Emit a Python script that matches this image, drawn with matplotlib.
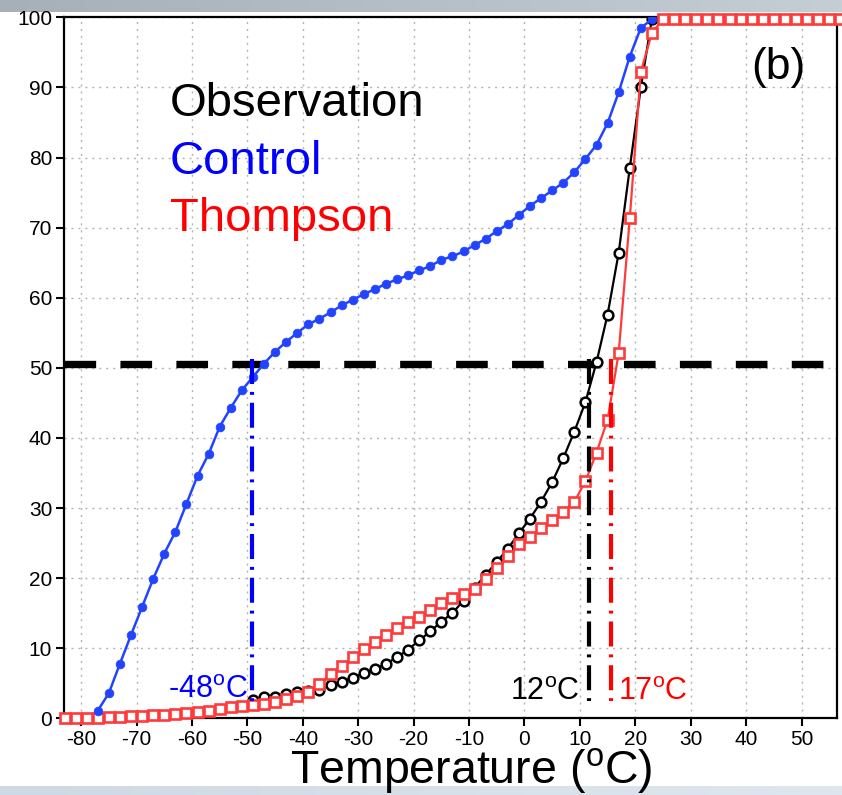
import numpy as np
import matplotlib
matplotlib.use("Agg")
import matplotlib.pyplot as plt
from matplotlib.colors import LinearSegmentedColormap

plt.rcParams['font.family'] = ['Liberation Sans', 'DejaVu Sans']
plt.rcParams['mathtext.fontset'] = 'custom'
plt.rcParams['mathtext.rm'] = 'Liberation Sans'
plt.rcParams['axes.unicode_minus'] = False

# ---------------- data ----------------
t_control = [-77, -75, -73, -71, -69, -67, -65, -63, -61, -59, -57, -55, -53, -51,
             -49, -47, -45, -43, -41, -39, -37, -35, -33, -31, -29, -27, -25, -23,
             -21, -19, -17, -15, -13, -11, -9, -7, -5, -3, -1, 1, 3, 5, 7, 9, 11,
             13, 15, 17, 19, 21, 23]
control = [1.1, 3.6, 7.8, 11.9, 15.9, 19.9, 23.5, 26.6, 30.6, 34.6, 37.7, 41.6, 44.3, 46.8,
           48.7, 50.6, 52.3, 53.7, 55.0, 56.2, 57.0, 57.9, 58.9, 59.7, 60.5, 61.2, 62.0, 62.6,
           63.2, 63.9, 64.5, 65.4, 65.9, 66.6, 67.5, 68.4, 69.5, 70.5, 71.8, 73.1, 74.2, 75.3,
           76.4, 77.9, 79.8, 81.8, 84.9, 89.3, 94.4, 98.5, 99.7]

t_obs = [-49, -47, -45, -43, -41, -39, -37, -35, -33, -31, -29, -27, -25, -23, -21, -19,
         -17, -15, -13, -11, -9, -7, -5, -3, -1, 1, 3, 5, 7, 9, 11, 13, 15, 17, 19, 21, 23]
observation = [2.6, 3.0, 3.1, 3.5, 3.7, 3.9, 4.1, 4.7, 5.2, 5.8, 6.4, 7.0, 7.8, 8.7, 9.8, 11.1,
               12.4, 13.8, 15.0, 16.8, 18.6, 20.5, 22.3, 24.2, 26.4, 28.5, 30.9, 33.7, 37.1,
               40.9, 45.1, 50.8, 57.6, 66.4, 78.5, 90.0, 99.8]

t_thompson = [-83, -81, -79, -77, -75, -73, -71, -69, -67, -65, -63, -61, -59, -57, -55, -53,
              -51, -49, -47, -45, -43, -41, -39, -37, -35, -33, -31, -29, -27, -25, -23, -21,
              -19, -17, -15, -13, -11, -9, -7, -5, -3, -1, 1, 3, 5, 7, 9, 11, 13, 15, 17, 19,
              21, 23, 25, 27, 29, 31, 33, 35, 37, 39, 41, 43, 45, 47, 49, 51, 53, 55, 57]
thompson = [0.1, 0.1, 0.1, 0.1, 0.2, 0.2, 0.3, 0.3, 0.4, 0.5, 0.6, 0.8, 0.9, 1.1, 1.3, 1.6,
            1.8, 1.9, 2.0, 2.3, 2.7, 3.2, 3.8, 4.9, 6.3, 7.5, 8.7, 9.9, 10.9, 11.9, 12.9, 13.7,
            14.4, 15.5, 16.5, 17.1, 17.7, 18.4, 19.9, 21.4, 23.1, 24.8, 25.9, 27.1, 28.3, 29.5,
            30.9, 33.8, 37.9, 42.6, 52.1, 71.3, 92.2, 97.8, 99.7, 99.7, 99.7, 99.7, 99.7, 99.7,
            99.7, 99.7, 99.7, 99.7, 99.7, 99.7, 99.7, 99.7, 99.7, 99.7, 99.7]

half_level = 50.6
cross_temps = [-49.1, 11.6, 15.6]
cross_labels = ['-48$^{\\mathrm{o}}$C', '12$^{\\mathrm{o}}$C', '17$^{\\mathrm{o}}$C']
cross_colors = ['#0000ff', 'black', '#ff0000']

xticks = list(range(-80, 51, 10))
yticks = list(range(0, 101, 10))

# ---------------- figure ----------------
W, H = 842, 795
fig = plt.figure(figsize=(W / 100, H / 100), dpi=100)

# top gray band and bottom band (screenshot frame)
band = fig.add_axes([0, 1 - 12 / H, 1, 12 / H])
cm = LinearSegmentedColormap.from_list('band', ['#a7afb7', '#c5cdd5'])
band.imshow(np.linspace(0, 1, 256)[None, :], cmap=cm, aspect='auto')
band.axis('off')
band2 = fig.add_axes([0, 0, 1, 9 / H])
cm2 = LinearSegmentedColormap.from_list('band2', ['#cfd9e3', '#dfe6ee'])
band2.imshow(np.linspace(0, 1, 256)[None, :], cmap=cm2, aspect='auto')
band2.axis('off')

ax = fig.add_axes([64 / W, 1 - 718.3 / H, (837 - 64) / W, (718.3 - 17.3) / H])
ax.set_xlim(-83.1, 56.4)
ax.set_ylim(0, 100)
ax.set_xticks(xticks)
ax.set_yticks(yticks)
ax.grid(True, color='#b4b4b4', linestyle=(0, (1.5, 3.5)), linewidth=1.0, zorder=0)
for s in ax.spines.values():
    s.set_linewidth(1.6)
    s.set_color('black')
ax.tick_params(direction='out', length=6, width=1.5, labelsize=15, pad=2.5)

# 50% line
ax.axhline(half_level, color='black', linewidth=5.3, linestyle=(0, (4.3, 3.3)),
           dash_capstyle='butt', zorder=3)

# curves
ax.plot(t_obs, observation, color='black', linewidth=1.6, marker='o', markersize=7,
        markerfacecolor='white', markeredgecolor='black', markeredgewidth=1.8, zorder=4)
ax.plot(t_thompson, thompson, color='#ff3a3a', linewidth=1.6, marker='s', markersize=6.8,
        markerfacecolor='white', markeredgecolor='#ff3a3a', markeredgewidth=1.9, zorder=5,
        clip_on=False)
ax.plot(t_control, control, color='#2244ff', linewidth=1.8, marker='o', markersize=6.3,
        markerfacecolor='#2244ff', markeredgecolor='#2244ff', markeredgewidth=0.5, zorder=6)

# crossing markers
for t, c in zip(cross_temps, cross_colors):
    ax.plot([t, t], [51.2, 2.4], color=c, linewidth=3.0,
            linestyle=(0, (6.0, 1.9, 0.7, 1.9)), dash_capstyle='butt', zorder=7)

ax.text(-49.9, 2.9, cross_labels[0], color=cross_colors[0], fontsize=22, ha='right', va='baseline', zorder=8)
ax.text(10.0, 2.6, cross_labels[1], color=cross_colors[1], fontsize=22, ha='right', va='baseline', zorder=8)
ax.text(16.9, 2.6, cross_labels[2], color=cross_colors[2], fontsize=22, ha='left', va='baseline', zorder=8)

# legend texts
ax.text(-64.0, 85.9, 'Observation', color='black', fontsize=34, va='baseline')
ax.text(-64.0, 77.6, 'Control', color='#0000ff', fontsize=34, va='baseline')
ax.text(-64.0, 69.5, 'Thompson', color='#ff0000', fontsize=34, va='baseline')
ax.text(50.7, 91.2, '(b)', color='black', fontsize=32, ha='right', va='baseline')

ax.set_xlabel('Temperature ($^{\\mathrm{o}}$C)', fontsize=33.5)
ax.xaxis.set_label_coords((471 - 64) / (837 - 64), -(784 - 718.3) / (718.3 - 17.3))
ax.xaxis.label.set_va('baseline')

fig.savefig('out.png', dpi=100)
